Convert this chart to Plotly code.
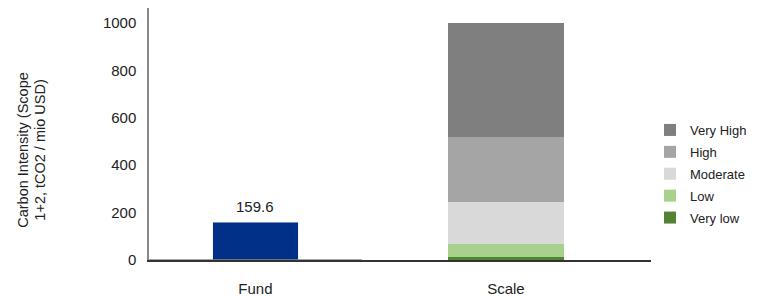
import plotly.graph_objects as go

categories = ["Fund", "Scale"]
fund_value = [159.6]
scale_levels = ["Very low", "Low", "Moderate", "High", "Very High"]
scale_values = [13, 55, 177, 275, 480]
scale_colors = ["#548235", "#a9d18e", "#d9d9d9", "#a5a5a5", "#7f7f7f"]
fund_color = "#003087"
y_ticks = [0, 200, 400, 600, 800, 1000]
y_title_lines = ["Carbon Intensity (Scope", "1+2, tCO2 / mio USD)"]

font_family = "Arial, Liberation Sans, sans-serif"
L, R, T, B = 149, 106, 8, 36
W, H = 760, 296
pw, ph = W - L - R, H - T - B

fig = go.Figure()
fig.add_trace(go.Bar(
    x=[categories[0]], y=fund_value, marker_color=fund_color, width=0.34,
    showlegend=False, name="Fund",
))
for v in fund_value:
    fig.add_annotation(
        x=categories[0], y=v, text=f"{v}", showarrow=False, yanchor="bottom",
        yshift=5, font=dict(size=15, color="#222"),
    )
n = len(scale_levels)
for i, (lvl, val, col) in enumerate(zip(scale_levels, scale_values, scale_colors)):
    fig.add_trace(go.Bar(
        x=[categories[1]], y=[val], name=lvl, marker_color=col, width=0.464,
        marker_line_width=0, legendgroup=lvl, legendrank=n - i,
    ))

# y-axis title as two rotated lines
for i, line in enumerate(y_title_lines):
    cx = [22, 39][i]
    fig.add_annotation(
        text=line, textangle=-90, xref="paper", yref="paper",
        x=(cx - L) / pw, y=(H - B - 150) / ph, xanchor="center", yanchor="middle",
        showarrow=False, font=dict(size=14.5, color="#222"),
    )

# lighter baseline segment under the Fund half of the axis
fig.add_shape(
    type="line", xref="paper", yref="y", x0=0, x1=(363 - L) / pw, y0=0, y1=0,
    line=dict(color="#8a8a8a", width=1.5), layer="above",
)

fig.update_layout(
    barmode="stack",
    width=W, height=H,
    margin=dict(l=L, r=R, t=T, b=B),
    plot_bgcolor="white", paper_bgcolor="white",
    font=dict(family=font_family, color="#222"),
    legend=dict(
        traceorder="grouped", tracegroupgap=2,
        x=(653 - L) / pw, xanchor="left", y=(H - B - 174) / ph, yanchor="middle",
        font=dict(size=13), itemwidth=30, bgcolor="rgba(0,0,0,0)",
    ),
    showlegend=True,
)
fig.update_xaxes(
    type="category", range=[-0.425, 1.579], showline=True, linecolor="#333",
    linewidth=1.5, showgrid=False, ticks="", tickfont=dict(size=15),
    ticklabelstandoff=14, automargin=False,
)
fig.update_yaxes(
    range=[0, 1063], tickvals=y_ticks, showline=True, linecolor="#888",
    linewidth=1.5, showgrid=False, zeroline=False, ticks="",
    tickfont=dict(size=15), ticklabelstandoff=8, automargin=False,
)
fig.write_html("out.html", config={"displayModeBar": False},
               post_script="document.body.style.margin='0px';")
